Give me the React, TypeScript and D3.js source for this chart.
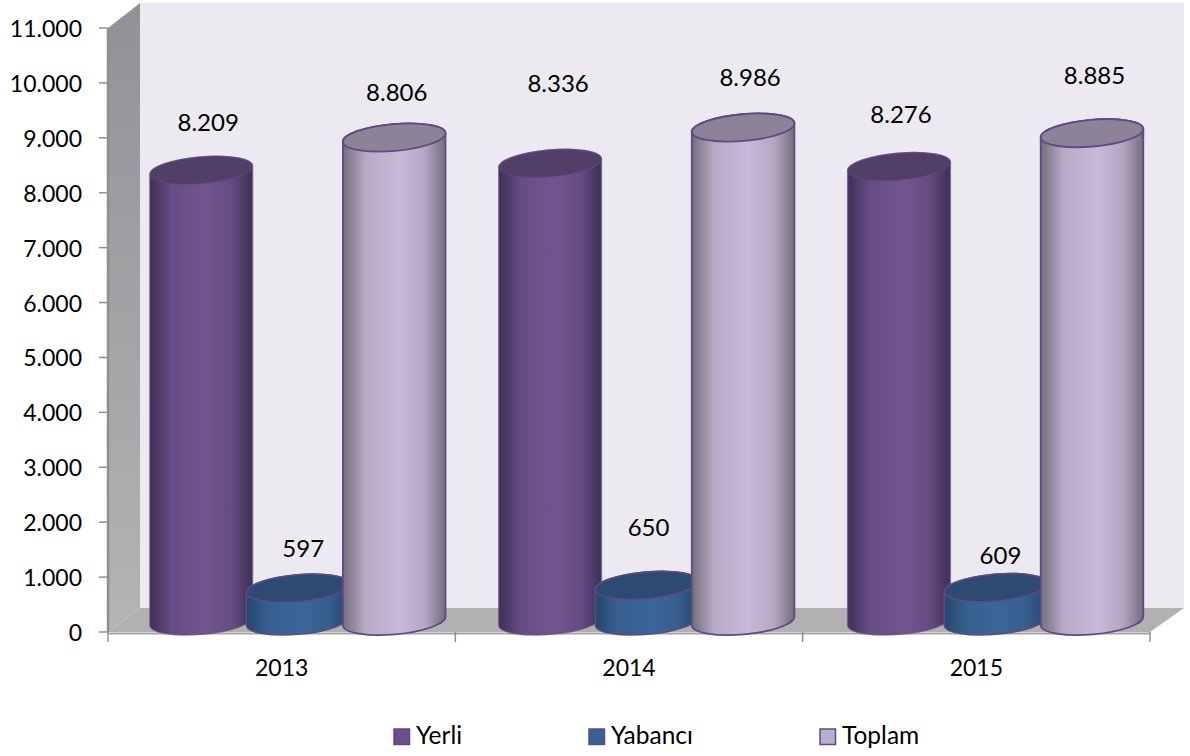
import React from "react";
import * as d3 from "d3";

const categories = ["2013", "2014", "2015"];
const seriesNames = ["Yerli", "Yabancı", "Toplam"];
const yerli = [8209, 8336, 8276];
const yabanci = [597, 650, 609];
const toplam = [8806, 8986, 8885];
const yTicks = [0, 1000, 2000, 3000, 4000, 5000, 6000, 7000, 8000, 9000, 10000, 11000];
const valueLabels = [
  ["8.209", "8.336", "8.276"],
  ["597", "650", "609"],
  ["8.806", "8.986", "8.885"],
];

// layout
const W = 1190, H = 756;
const FONT = "Lato, 'Open Sans', sans-serif";
const axisX = 108, axisRight = 1150, y0 = 632, yTop = 28;
const wallLeft = 140, wallRight = 1184, wallTop = 3, wallBottom = 608;
const baseLift = 11, rx = 51.5, ry = 13.4, tilt = 5;
const barStep = 96.5;
const labelOffsets = [
  [[7, -50], [8, -82], [2, -55]],
  [[5.5, -42.5], [2, -60], [5, -35]],
  [[2.6, -47], [7, -53], [2.5, -60]],
];

const palette = [
  { edge: "#3d2f56", mid: "#72558f", top: "#523f67" },
  { edge: "#25466e", mid: "#3b6699", top: "#2c4a72" },
  { edge: "#736e7c", mid: "#c9b9d9", top: "#8d8399" },
];
const swatchFill = ["#6b4f8a", "#376192", "#b9aecd"];
const legendX = [394, 589, 820];

const xScale = d3.scaleBand<string>().domain(categories).range([axisX, axisRight]);
const groupScale = d3.scalePoint<string>().domain(categories).range([297.7, 995.5]);
const yScale = d3.scaleLinear().domain([0, 11000]).range([y0, yTop]);
const seriesScale = d3.scalePoint<number>().domain([0, 1, 2]).range([-barStep, barStep]);
const fmt = (v: number) => (v === 0 ? "0" : d3.format(",")(v).replace(/,/g, "."));

const allSeries = [yerli, yabanci, toplam];

function Cylinder({ cx, value, s }: { cx: number; value: number; s: number }) {
  const rad = (tilt * Math.PI) / 180;
  const dx = rx * Math.cos(rad), dy = rx * Math.sin(rad);
  const bot = y0 - baseLift;
  const top = bot - (y0 - yScale(value));
  const arc = `A${rx} ${ry} ${-tilt} 0 0`;
  const body = `M${cx - dx} ${top + dy}L${cx - dx} ${bot + dy}${arc} ${cx + dx} ${bot - dy}L${cx + dx} ${top - dy}${arc} ${cx - dx} ${top + dy}Z`;
  return (
    <g stroke="#5f4a85" strokeWidth={s === 2 ? 1.8 : 1.5}>
      <path d={body} fill={`url(#cyl${s})`} strokeOpacity={s === 0 ? 0.7 : 1} />
      <ellipse cx={cx} cy={top} rx={rx} ry={ry} transform={`rotate(${-tilt} ${cx} ${top})`} fill={palette[s].top} strokeOpacity={s === 0 ? 0.5 : 1} />
    </g>
  );
}

export default function App() {
  return (
    <svg width={W} height={H} style={{ position: "absolute", left: 0, top: 0, background: "#fff" }} fontFamily={FONT}>
      <defs>
        {palette.map((p, i) => (
          <linearGradient key={i} id={`cyl${i}`} x1="0" x2="1" y1="0" y2="0">
            <stop offset="0" stopColor={p.edge} />
            <stop offset="0.22" stopColor={d3.interpolateRgb(p.edge, p.mid)(0.8)} />
            <stop offset="0.55" stopColor={p.mid} />
            <stop offset="0.8" stopColor={d3.interpolateRgb(p.edge, p.mid)(0.75)} />
            <stop offset="1" stopColor={p.edge} />
          </linearGradient>
        ))}
        <linearGradient id="side" x1="0" x2="0" y1="0" y2="1">
          <stop offset="0" stopColor="#939195" />
          <stop offset="1" stopColor="#b5b3b6" />
        </linearGradient>
      </defs>

      {/* back wall, side wall, floor */}
      <rect x={wallLeft} y={wallTop} width={wallRight - wallLeft} height={wallBottom - wallTop} fill="#ece9f1" />
      <polygon points={`${axisX},${yTop} ${wallLeft},${wallTop} ${wallLeft},${wallBottom} ${axisX},${y0}`} fill="url(#side)" />
      <polygon points={`${axisX},${y0} ${wallLeft},${wallBottom} ${wallRight},${wallBottom} ${axisRight},${y0}`} fill="#b3b0b4" />

      {/* axes */}
      <g stroke="#8f8f8f" strokeWidth={1.5} fill="none">
        <line x1={axisX} x2={axisX} y1={yTop} y2={y0} strokeWidth={2.5} />
        <line x1={axisX} x2={axisRight} y1={y0 + 1.5} y2={y0 + 1.5} strokeWidth={2} stroke="#a3a3a3" />
        {yTicks.map((t) => (
          <line key={t} x1={axisX - 9} x2={axisX} y1={yScale(t)} y2={yScale(t)} />
        ))}
        {[...categories.map((c) => xScale(c) as number), axisRight].map((x, i) => (
          <line key={i} x1={x} x2={x} y1={y0} y2={y0 + 10} />
        ))}
      </g>
      <g fontSize={23} textAnchor="end" fill="#000">
        {yTicks.map((t) => (
          <text key={t} x={82} y={yScale(t) + 9}>{fmt(t)}</text>
        ))}
      </g>
      <g fontSize={23} textAnchor="middle" fill="#000">
        {categories.map((c) => (
          <text key={c} x={(xScale(c) as number) + xScale.bandwidth() / 2} y={676}>{c}</text>
        ))}
      </g>

      {/* cylinders */}
      {categories.map((c, ci) => (
        <g key={c}>
          {allSeries.map((vals, s) => (
            <Cylinder key={s} cx={(groupScale(c) as number) + (seriesScale(s) as number)} value={vals[ci]} s={s} />
          ))}
        </g>
      ))}

      {/* data labels */}
      <g fontSize={24} textAnchor="middle" fill="#000">
        {categories.map((c, ci) =>
          allSeries.map((vals, s) => {
            const [ox, oy] = labelOffsets[s][ci];
            return (
              <text key={`${c}${s}`} x={(groupScale(c) as number) + (seriesScale(s) as number) + ox} y={yScale(vals[ci]) + oy}>
                {valueLabels[s][ci]}
              </text>
            );
          })
        )}
      </g>

      {/* legend */}
      {seriesNames.map((n, i) => (
        <g key={n}>
          <rect x={legendX[i]} y={729} width={15.5} height={15.5} fill={swatchFill[i]} stroke="#5f4a85" strokeWidth={1.5} />
          <text x={legendX[i] + 22} y={744} fontSize={24.5} fill="#000">{n}</text>
        </g>
      ))}
    </svg>
  );
}
